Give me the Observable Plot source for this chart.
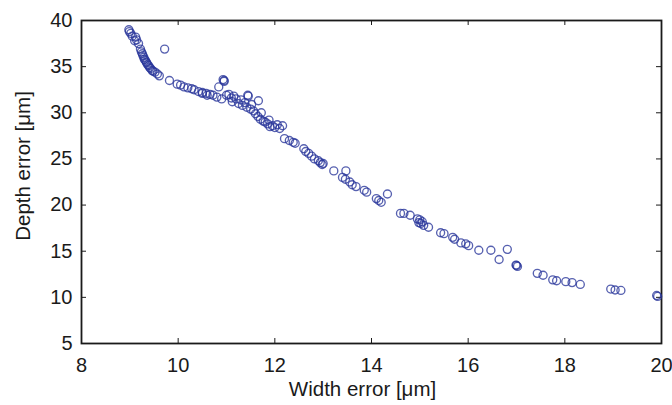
<!DOCTYPE html>
<html>
<head>
<meta charset="utf-8">
<script src="https://cdn.jsdelivr.net/npm/d3@7"></script>
<script src="https://cdn.jsdelivr.net/npm/@observablehq/plot@0.6"></script>
<style>
  html, body { margin: 0; padding: 0; background: #fff; }
</style>
</head>
<body>
<div id="chart"></div>
<script>
const xLabel = "Width error [μm]";
const yLabel = "Depth error [μm]";
const xTicks = [8, 10, 12, 14, 16, 18, 20];
const yTicks = [5, 10, 15, 20, 25, 30, 35, 40];

const widthErr = [
  8.98, 8.99, 9.02, 9.05, 9.12, 9.10, 9.18, 9.14,
  9.22, 9.24, 9.26, 9.27, 9.29, 9.30, 9.32, 9.34, 9.35, 9.37, 9.39, 9.41, 9.43, 9.46, 9.48, 9.52, 9.57, 9.61,
  9.72,
  9.82, 9.98, 10.05, 10.12, 10.20, 10.28, 10.33, 10.42, 10.50, 10.58, 10.66, 10.72, 10.50, 10.60,
  10.80, 10.84, 10.95, 10.95, 10.93, 10.90,
  11.00, 11.05, 11.10, 11.12, 11.15, 11.20, 11.25, 11.30, 11.33, 11.38, 11.42, 11.44, 11.45, 11.50, 11.52,
  11.66,
  11.56, 11.60, 11.65, 11.70, 11.76, 11.80, 11.85, 11.90, 11.95, 12.00, 12.05, 12.10, 12.16, 11.88, 11.72,
  12.20, 12.30, 12.38, 12.42,
  12.60, 12.64, 12.70, 12.76, 12.82, 12.90, 12.94, 12.98, 13.00,
  13.22, 13.47, 13.40, 13.46, 13.55, 13.60, 13.68, 13.85, 13.90,
  14.10, 14.15, 14.20, 14.33,
  14.60, 14.67, 14.80, 14.95, 14.98, 15.02, 15.08, 15.18, 15.00, 15.05,
  15.43, 15.50, 15.68, 15.72, 15.85, 15.95, 16.01, 16.22, 16.47, 16.64, 16.81, 17.00, 17.02, 16.99,
  17.43, 17.55, 17.75, 17.83, 18.02, 18.15, 18.32, 18.95, 19.04, 19.16, 19.90, 19.92
];
const depthErr = [
  39.0, 38.8, 38.6, 38.3, 38.2, 37.8, 37.5, 37.9,
  36.9, 36.6, 36.4, 36.2, 36.0, 35.8, 35.7, 35.5, 35.4, 35.2, 35.1, 34.9, 34.8, 34.6, 34.5, 34.4, 34.2, 34.0,
  36.9,
  33.5, 33.1, 33.0, 32.8, 32.7, 32.6, 32.5, 32.3, 32.2, 32.1, 32.0, 31.9, 32.1, 31.9,
  31.7, 32.8, 33.5, 33.4, 33.6, 31.5,
  31.9, 32.0, 31.6, 31.2, 31.8, 31.5, 31.0, 31.4, 30.8, 31.1, 30.6, 31.9, 31.8, 30.4, 30.9,
  31.3,
  30.2, 29.9, 29.6, 29.3, 29.1, 29.0, 28.8, 28.5, 28.6, 28.4, 28.7, 28.3, 28.6, 29.2, 30.0,
  27.2, 27.0, 26.8, 26.7,
  26.1, 25.8, 25.6, 25.3, 25.0, 24.8, 24.6, 24.4, 24.5,
  23.7, 23.7, 23.0, 22.8, 22.5, 22.2, 22.0, 21.6, 21.4,
  20.7, 20.5, 20.3, 21.2,
  19.1, 19.1, 18.9, 18.5, 18.1, 18.0, 17.8, 17.6, 18.4, 18.2,
  17.0, 16.9, 16.5, 16.3, 15.9, 15.8, 15.6, 15.1, 15.1, 14.1, 15.2, 13.45, 13.35, 13.5,
  12.6, 12.4, 11.9, 11.8, 11.7, 11.6, 11.4, 10.9, 10.8, 10.75, 10.2, 10.1
];

const points = widthErr.map((w, i) => ({w, d: depthErr[i]}));

const W = 672, H = 405;
const mL = 81, mR = 11, mT = 20, mB = 62;
const innerW = W - mL - mR, innerH = H - mT - mB;
const tickLen = 5;
const ink = "#1a1a1a";
const fs = 20;

const chart = Plot.plot({
  width: W,
  height: H,
  marginLeft: mL,
  marginRight: mR,
  marginTop: mT,
  marginBottom: mB,
  style: {fontFamily: "'Liberation Sans', Arial, sans-serif", fontSize: fs + "px", color: ink, background: "#fff"},
  x: {domain: [8, 20]},
  y: {domain: [5, 40]},
  marks: [
    Plot.axisX(xTicks, {tickSize: 0, tickPadding: 14, label: null, fontSize: fs}),
    Plot.axisY(yTicks, {tickSize: 0, tickPadding: 9, label: null, fontSize: fs}),
    Plot.tickX(xTicks, {x: d => d, insetTop: innerH - tickLen, stroke: ink}),
    Plot.tickX(xTicks, {x: d => d, insetBottom: innerH - tickLen, stroke: ink}),
    Plot.tickY(yTicks, {y: d => d, insetRight: innerW - tickLen, stroke: ink}),
    Plot.tickY(yTicks, {y: d => d, insetLeft: innerW - tickLen, stroke: ink}),
    Plot.frame({stroke: ink, strokeWidth: 1.8}),
    Plot.dot(points, {x: "w", y: "d", r: 4, stroke: "#28349a", strokeWidth: 1.35, strokeOpacity: 0.78, fill: "none"}),
    Plot.text([xLabel], {text: d => d, frameAnchor: "bottom", textAnchor: "middle", dx: -9, dy: 52, fontSize: fs + 0.5, fill: ink}),
    Plot.text([yLabel], {text: d => d, frameAnchor: "left", textAnchor: "middle", dx: -58, dy: -16, rotate: -90, fontSize: fs + 0.5, fill: ink})
  ]
});
document.getElementById("chart").appendChild(chart);
</script>
</body>
</html>
